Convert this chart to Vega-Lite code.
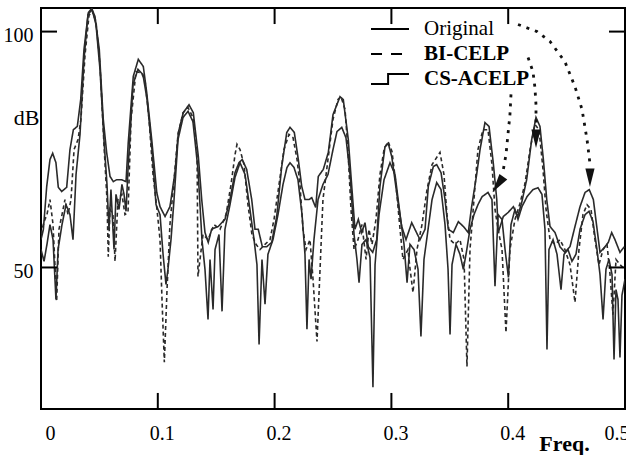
{
  "$schema": "https://vega.github.io/schema/vega-lite/v6.json",
  "width": 584,
  "height": 401,
  "autosize": {"type": "none"},
  "padding": {"left": 41, "top": 8, "right": 1, "bottom": 46},
  "background": "white",
  "config": {
    "view": {"stroke": "black", "strokeWidth": 2},
    "font": "Liberation Serif",
    "axis": {"grid": false, "domain": false, "ticks": false, "tickSize": 0, "labelColor": "black", "titleColor": "black", "labelFont": "Liberation Serif", "titleFont": "Liberation Serif", "labelFontSize": 20, "labelFontWeight": "normal"}
  },
  "datasets": {
    "spec": [
      {"s":"Original","f":0,"db":55.9},{"s":"Original","f":0.002,"db":58.0},{"s":"Original","f":0.0049,"db":67.2},{"s":"Original","f":0.0077,"db":72.9},{"s":"Original","f":0.0100,"db":74.2},{"s":"Original","f":0.0128,"db":72.2},{"s":"Original","f":0.0148,"db":67.0},{"s":"Original","f":0.0177,"db":66.1},{"s":"Original","f":0.0220,"db":67.0},{"s":"Original","f":0.0248,"db":75.0},{"s":"Original","f":0.0277,"db":79.2},{"s":"Original","f":0.0311,"db":79.9},{"s":"Original","f":0.0340,"db":85.6},{"s":"Original","f":0.0368,"db":96.2},{"s":"Original","f":0.0405,"db":104.0},{"s":"Original","f":0.0434,"db":104.9},{"s":"Original","f":0.0462,"db":103.2},{"s":"Original","f":0.0499,"db":96.2},{"s":"Original","f":0.0533,"db":81.4},{"s":"Original","f":0.0562,"db":74.4},{"s":"Original","f":0.0591,"db":69.3},{"s":"Original","f":0.0619,"db":68.2},{"s":"Original","f":0.0648,"db":68.6},{"s":"Original","f":0.0691,"db":68.6},{"s":"Original","f":0.0728,"db":68.2},{"s":"Original","f":0.0747,"db":76.5},{"s":"Original","f":0.0790,"db":90.5},{"s":"Original","f":0.0833,"db":94.1},{"s":"Original","f":0.0876,"db":92.6},{"s":"Original","f":0.0905,"db":87.1},{"s":"Original","f":0.0948,"db":77.1},{"s":"Original","f":0.0991,"db":65.9},{"s":"Original","f":0.1019,"db":62.9},{"s":"Original","f":0.1062,"db":60.8},{"s":"Original","f":0.1104,"db":62.9},{"s":"Original","f":0.1147,"db":70.1},{"s":"Original","f":0.1176,"db":78.6},{"s":"Original","f":0.1218,"db":82.8},{"s":"Original","f":0.1267,"db":84.5},{"s":"Original","f":0.1304,"db":82.8},{"s":"Original","f":0.1347,"db":73.5},{"s":"Original","f":0.1376,"db":64.4},{"s":"Original","f":0.1404,"db":57.4},{"s":"Original","f":0.1432,"db":55.3},{"s":"Original","f":0.1461,"db":58.1},{"s":"Original","f":0.1518,"db":58.7},{"s":"Original","f":0.1575,"db":60.2},{"s":"Original","f":0.1618,"db":64.4},{"s":"Original","f":0.1661,"db":70.1},{"s":"Original","f":0.1695,"db":72.2},{"s":"Original","f":0.1723,"db":72.9},{"s":"Original","f":0.1761,"db":70.8},{"s":"Original","f":0.1804,"db":64.4},{"s":"Original","f":0.1832,"db":58.1},{"s":"Original","f":0.1860,"db":58.1},{"s":"Original","f":0.1895,"db":54.4},{"s":"Original","f":0.1932,"db":54.4},{"s":"Original","f":0.1975,"db":55.3},{"s":"Original","f":0.2018,"db":60.8},{"s":"Original","f":0.2061,"db":71.4},{"s":"Original","f":0.2104,"db":78.6},{"s":"Original","f":0.2132,"db":79.7},{"s":"Original","f":0.2169,"db":78.6},{"s":"Original","f":0.2203,"db":72.9},{"s":"Original","f":0.2232,"db":67.2},{"s":"Original","f":0.2260,"db":64.4},{"s":"Original","f":0.2295,"db":64.4},{"s":"Original","f":0.2318,"db":64.8},{"s":"Original","f":0.2352,"db":62.7},{"s":"Original","f":0.2374,"db":69.3},{"s":"Original","f":0.2417,"db":70.8},{"s":"Original","f":0.2460,"db":74.4},{"s":"Original","f":0.2500,"db":82.4},{"s":"Original","f":0.2560,"db":86.2},{"s":"Original","f":0.2588,"db":85.6},{"s":"Original","f":0.2631,"db":77.1},{"s":"Original","f":0.2669,"db":64.4},{"s":"Original","f":0.2688,"db":58.1},{"s":"Original","f":0.2717,"db":60.2},{"s":"Original","f":0.2746,"db":57.4},{"s":"Original","f":0.2774,"db":59.5},{"s":"Original","f":0.2802,"db":54.4},{"s":"Original","f":0.2840,"db":53.2},{"s":"Original","f":0.2874,"db":55.9},{"s":"Original","f":0.2902,"db":67.2},{"s":"Original","f":0.2945,"db":75.6},{"s":"Original","f":0.2973,"db":76.3},{"s":"Original","f":0.3003,"db":73.5},{"s":"Original","f":0.3045,"db":65.9},{"s":"Original","f":0.3088,"db":58.7},{"s":"Original","f":0.3125,"db":55.9},{"s":"Original","f":0.3174,"db":59.5},{"s":"Original","f":0.3211,"db":57.6},{"s":"Original","f":0.3245,"db":55.9},{"s":"Original","f":0.3288,"db":58.1},{"s":"Original","f":0.3316,"db":67.2},{"s":"Original","f":0.3359,"db":71.4},{"s":"Original","f":0.3388,"db":71.8},{"s":"Original","f":0.3425,"db":70.1},{"s":"Original","f":0.3459,"db":64.4},{"s":"Original","f":0.3487,"db":58.1},{"s":"Original","f":0.3530,"db":57.4},{"s":"Original","f":0.3573,"db":59.7},{"s":"Original","f":0.3616,"db":58.7},{"s":"Original","f":0.3658,"db":57.4},{"s":"Original","f":0.3687,"db":62.9},{"s":"Original","f":0.3730,"db":69.7},{"s":"Original","f":0.3759,"db":75.0},{"s":"Original","f":0.3801,"db":80.7},{"s":"Original","f":0.3836,"db":79.9},{"s":"Original","f":0.3872,"db":72.2},{"s":"Original","f":0.3902,"db":64.4},{"s":"Original","f":0.3915,"db":57.4},{"s":"Original","f":0.3958,"db":60.8},{"s":"Original","f":0.4001,"db":61.7},{"s":"Original","f":0.4044,"db":62.9},{"s":"Original","f":0.4081,"db":60.8},{"s":"Original","f":0.4116,"db":63.8},{"s":"Original","f":0.4158,"db":68.6},{"s":"Original","f":0.4201,"db":77.1},{"s":"Original","f":0.4238,"db":81.8},{"s":"Original","f":0.4272,"db":79.9},{"s":"Original","f":0.4301,"db":72.9},{"s":"Original","f":0.4330,"db":64.4},{"s":"Original","f":0.4358,"db":58.7},{"s":"Original","f":0.4401,"db":57.4},{"s":"Original","f":0.4443,"db":54.4},{"s":"Original","f":0.4486,"db":53.2},{"s":"Original","f":0.4529,"db":54.4},{"s":"Original","f":0.4572,"db":58.7},{"s":"Original","f":0.4615,"db":62.9},{"s":"Original","f":0.4658,"db":65.9},{"s":"Original","f":0.4694,"db":66.5},{"s":"Original","f":0.4729,"db":64.4},{"s":"Original","f":0.4758,"db":58.7},{"s":"Original","f":0.4786,"db":53.2},{"s":"Original","f":0.4829,"db":54.4},{"s":"Original","f":0.4857,"db":55.3},{"s":"Original","f":0.4886,"db":57.4},{"s":"Original","f":0.4914,"db":55.9},{"s":"Original","f":0.4957,"db":53.2},{"s":"Original","f":0.4994,"db":54.4},

      {"s":"BI-CELP","f":0,"db":57.0},{"s":"BI-CELP","f":0.0026,"db":59.7},{"s":"BI-CELP","f":0.0051,"db":61.2},{"s":"BI-CELP","f":0.0077,"db":64.4},{"s":"BI-CELP","f":0.0103,"db":59.1},{"s":"BI-CELP","f":0.0134,"db":42.8},{"s":"BI-CELP","f":0.0154,"db":58.1},{"s":"BI-CELP","f":0.0180,"db":61.2},{"s":"BI-CELP","f":0.0205,"db":64.4},{"s":"BI-CELP","f":0.0231,"db":61.2},{"s":"BI-CELP","f":0.0257,"db":64.4},{"s":"BI-CELP","f":0.0283,"db":75.0},{"s":"BI-CELP","f":0.0317,"db":77.1},{"s":"BI-CELP","f":0.0342,"db":81.4},{"s":"BI-CELP","f":0.0377,"db":95.1},{"s":"BI-CELP","f":0.0411,"db":103.4},{"s":"BI-CELP","f":0.0437,"db":104.4},{"s":"BI-CELP","f":0.0471,"db":102.1},{"s":"BI-CELP","f":0.0505,"db":93.0},{"s":"BI-CELP","f":0.0539,"db":76.1},{"s":"BI-CELP","f":0.0565,"db":64.4},{"s":"BI-CELP","f":0.0576,"db":52.3},{"s":"BI-CELP","f":0.0591,"db":62.3},{"s":"BI-CELP","f":0.0616,"db":61.2},{"s":"BI-CELP","f":0.0634,"db":51.3},{"s":"BI-CELP","f":0.0659,"db":64.4},{"s":"BI-CELP","f":0.0693,"db":65.5},{"s":"BI-CELP","f":0.0719,"db":61.2},{"s":"BI-CELP","f":0.0745,"db":61.7},{"s":"BI-CELP","f":0.0771,"db":81.4},{"s":"BI-CELP","f":0.0813,"db":91.5},{"s":"BI-CELP","f":0.0856,"db":91.3},{"s":"BI-CELP","f":0.0890,"db":89.8},{"s":"BI-CELP","f":0.0925,"db":81.4},{"s":"BI-CELP","f":0.0959,"db":69.7},{"s":"BI-CELP","f":0.0993,"db":62.3},{"s":"BI-CELP","f":0.1019,"db":55.9},{"s":"BI-CELP","f":0.1036,"db":43.2},{"s":"BI-CELP","f":0.1056,"db":29.9},{"s":"BI-CELP","f":0.1079,"db":45.3},{"s":"BI-CELP","f":0.1104,"db":59.1},{"s":"BI-CELP","f":0.1139,"db":68.6},{"s":"BI-CELP","f":0.1173,"db":78.2},{"s":"BI-CELP","f":0.1216,"db":82.8},{"s":"BI-CELP","f":0.1259,"db":83.9},{"s":"BI-CELP","f":0.1301,"db":81.8},{"s":"BI-CELP","f":0.1336,"db":75.0},{"s":"BI-CELP","f":0.1344,"db":48.1},{"s":"BI-CELP","f":0.1387,"db":57.0},{"s":"BI-CELP","f":0.1430,"db":55.9},{"s":"BI-CELP","f":0.1481,"db":59.1},{"s":"BI-CELP","f":0.1533,"db":58.1},{"s":"BI-CELP","f":0.1584,"db":61.2},{"s":"BI-CELP","f":0.1627,"db":67.6},{"s":"BI-CELP","f":0.1661,"db":73.9},{"s":"BI-CELP","f":0.1678,"db":76.1},{"s":"BI-CELP","f":0.1704,"db":75.0},{"s":"BI-CELP","f":0.1738,"db":71.8},{"s":"BI-CELP","f":0.1772,"db":63.3},{"s":"BI-CELP","f":0.1806,"db":57.0},{"s":"BI-CELP","f":0.1841,"db":54.9},{"s":"BI-CELP","f":0.1875,"db":53.8},{"s":"BI-CELP","f":0.1918,"db":54.9},{"s":"BI-CELP","f":0.1961,"db":55.9},{"s":"BI-CELP","f":0.1995,"db":60.2},{"s":"BI-CELP","f":0.2038,"db":67.6},{"s":"BI-CELP","f":0.2080,"db":75.0},{"s":"BI-CELP","f":0.2123,"db":78.2},{"s":"BI-CELP","f":0.2158,"db":77.5},{"s":"BI-CELP","f":0.2192,"db":72.9},{"s":"BI-CELP","f":0.2217,"db":67.6},{"s":"BI-CELP","f":0.2243,"db":58.1},{"s":"BI-CELP","f":0.2269,"db":53.8},{"s":"BI-CELP","f":0.2303,"db":55.9},{"s":"BI-CELP","f":0.2329,"db":47.5},{"s":"BI-CELP","f":0.2363,"db":34.3},{"s":"BI-CELP","f":0.2389,"db":49.6},{"s":"BI-CELP","f":0.2414,"db":64.4},{"s":"BI-CELP","f":0.2457,"db":72.9},{"s":"BI-CELP","f":0.2500,"db":81.4},{"s":"BI-CELP","f":0.2543,"db":85.6},{"s":"BI-CELP","f":0.2568,"db":86.2},{"s":"BI-CELP","f":0.2603,"db":83.5},{"s":"BI-CELP","f":0.2628,"db":75.0},{"s":"BI-CELP","f":0.2654,"db":62.3},{"s":"BI-CELP","f":0.2680,"db":53.8},{"s":"BI-CELP","f":0.2714,"db":55.9},{"s":"BI-CELP","f":0.2748,"db":59.1},{"s":"BI-CELP","f":0.2783,"db":51.7},{"s":"BI-CELP","f":0.2808,"db":58.1},{"s":"BI-CELP","f":0.2834,"db":54.9},{"s":"BI-CELP","f":0.2868,"db":60.2},{"s":"BI-CELP","f":0.2902,"db":69.7},{"s":"BI-CELP","f":0.2937,"db":75.0},{"s":"BI-CELP","f":0.2971,"db":76.7},{"s":"BI-CELP","f":0.3005,"db":74.6},{"s":"BI-CELP","f":0.3039,"db":67.6},{"s":"BI-CELP","f":0.3074,"db":58.1},{"s":"BI-CELP","f":0.3099,"db":51.7},{"s":"BI-CELP","f":0.3142,"db":53.8},{"s":"BI-CELP","f":0.3160,"db":49.6},{"s":"BI-CELP","f":0.3185,"db":44.7},{"s":"BI-CELP","f":0.3219,"db":53.8},{"s":"BI-CELP","f":0.3262,"db":59.1},{"s":"BI-CELP","f":0.3305,"db":66.5},{"s":"BI-CELP","f":0.3348,"db":71.8},{"s":"BI-CELP","f":0.3416,"db":74.4},{"s":"BI-CELP","f":0.3450,"db":69.7},{"s":"BI-CELP","f":0.3476,"db":61.2},{"s":"BI-CELP","f":0.3502,"db":55.9},{"s":"BI-CELP","f":0.3545,"db":54.9},{"s":"BI-CELP","f":0.3587,"db":55.9},{"s":"BI-CELP","f":0.3622,"db":51.7},{"s":"BI-CELP","f":0.3647,"db":29.0},{"s":"BI-CELP","f":0.3673,"db":53.8},{"s":"BI-CELP","f":0.3707,"db":64.4},{"s":"BI-CELP","f":0.3741,"db":75.0},{"s":"BI-CELP","f":0.3784,"db":79.2},{"s":"BI-CELP","f":0.3827,"db":79.2},{"s":"BI-CELP","f":0.3861,"db":71.8},{"s":"BI-CELP","f":0.3887,"db":62.3},{"s":"BI-CELP","f":0.3913,"db":58.1},{"s":"BI-CELP","f":0.3947,"db":53.8},{"s":"BI-CELP","f":0.3981,"db":36.2},{"s":"BI-CELP","f":0.4015,"db":53.8},{"s":"BI-CELP","f":0.4058,"db":60.2},{"s":"BI-CELP","f":0.4101,"db":63.6},{"s":"BI-CELP","f":0.4144,"db":67.8},{"s":"BI-CELP","f":0.4187,"db":75.0},{"s":"BI-CELP","f":0.4229,"db":80.3},{"s":"BI-CELP","f":0.4264,"db":79.2},{"s":"BI-CELP","f":0.4298,"db":70.8},{"s":"BI-CELP","f":0.4324,"db":62.3},{"s":"BI-CELP","f":0.4358,"db":55.9},{"s":"BI-CELP","f":0.4401,"db":54.9},{"s":"BI-CELP","f":0.4443,"db":55.9},{"s":"BI-CELP","f":0.4486,"db":53.8},{"s":"BI-CELP","f":0.4529,"db":50.6},{"s":"BI-CELP","f":0.4572,"db":42.6},{"s":"BI-CELP","f":0.4606,"db":53.8},{"s":"BI-CELP","f":0.4640,"db":61.2},{"s":"BI-CELP","f":0.4675,"db":63.3},{"s":"BI-CELP","f":0.4709,"db":62.3},{"s":"BI-CELP","f":0.4743,"db":55.9},{"s":"BI-CELP","f":0.4777,"db":50.6},{"s":"BI-CELP","f":0.4812,"db":53.8},{"s":"BI-CELP","f":0.4846,"db":54.9},{"s":"BI-CELP","f":0.4872,"db":48.5},{"s":"BI-CELP","f":0.4897,"db":40.0},{"s":"BI-CELP","f":0.4923,"db":51.7},{"s":"BI-CELP","f":0.4957,"db":50.6},{"s":"BI-CELP","f":0.5,"db":49.6},

      {"s":"CS-ACELP","f":0,"db":53.8},{"s":"CS-ACELP","f":0.0026,"db":51.3},{"s":"CS-ACELP","f":0.0051,"db":54.9},{"s":"CS-ACELP","f":0.0077,"db":59.1},{"s":"CS-ACELP","f":0.0103,"db":55.9},{"s":"CS-ACELP","f":0.0128,"db":43.2},{"s":"CS-ACELP","f":0.0146,"db":53.8},{"s":"CS-ACELP","f":0.0180,"db":59.1},{"s":"CS-ACELP","f":0.0214,"db":63.3},{"s":"CS-ACELP","f":0.0248,"db":61.2},{"s":"CS-ACELP","f":0.0274,"db":55.9},{"s":"CS-ACELP","f":0.0300,"db":69.7},{"s":"CS-ACELP","f":0.0334,"db":78.2},{"s":"CS-ACELP","f":0.0368,"db":94.1},{"s":"CS-ACELP","f":0.0402,"db":103.6},{"s":"CS-ACELP","f":0.0437,"db":104.7},{"s":"CS-ACELP","f":0.0471,"db":101.5},{"s":"CS-ACELP","f":0.0505,"db":92.0},{"s":"CS-ACELP","f":0.0539,"db":77.1},{"s":"CS-ACELP","f":0.0565,"db":67.6},{"s":"CS-ACELP","f":0.0582,"db":58.1},{"s":"CS-ACELP","f":0.0599,"db":66.5},{"s":"CS-ACELP","f":0.0625,"db":53.8},{"s":"CS-ACELP","f":0.0642,"db":65.5},{"s":"CS-ACELP","f":0.0668,"db":62.3},{"s":"CS-ACELP","f":0.0693,"db":67.6},{"s":"CS-ACELP","f":0.0711,"db":65.5},{"s":"CS-ACELP","f":0.0728,"db":61.9},{"s":"CS-ACELP","f":0.0745,"db":70.8},{"s":"CS-ACELP","f":0.0788,"db":88.8},{"s":"CS-ACELP","f":0.0830,"db":92.0},{"s":"CS-ACELP","f":0.0873,"db":90.9},{"s":"CS-ACELP","f":0.0908,"db":85.6},{"s":"CS-ACELP","f":0.0950,"db":75.0},{"s":"CS-ACELP","f":0.0985,"db":63.3},{"s":"CS-ACELP","f":0.1019,"db":61.2},{"s":"CS-ACELP","f":0.1045,"db":52.8},{"s":"CS-ACELP","f":0.1070,"db":46.4},{"s":"CS-ACELP","f":0.1087,"db":49.6},{"s":"CS-ACELP","f":0.1113,"db":55.9},{"s":"CS-ACELP","f":0.1139,"db":64.4},{"s":"CS-ACELP","f":0.1173,"db":77.1},{"s":"CS-ACELP","f":0.1216,"db":81.8},{"s":"CS-ACELP","f":0.1259,"db":83.1},{"s":"CS-ACELP","f":0.1301,"db":80.9},{"s":"CS-ACELP","f":0.1344,"db":70.8},{"s":"CS-ACELP","f":0.1378,"db":55.9},{"s":"CS-ACELP","f":0.1404,"db":49.6},{"s":"CS-ACELP","f":0.1430,"db":39.0},{"s":"CS-ACELP","f":0.1447,"db":51.7},{"s":"CS-ACELP","f":0.1473,"db":41.1},{"s":"CS-ACELP","f":0.1490,"db":53.8},{"s":"CS-ACELP","f":0.1524,"db":57.0},{"s":"CS-ACELP","f":0.1550,"db":40.7},{"s":"CS-ACELP","f":0.1575,"db":58.1},{"s":"CS-ACELP","f":0.1618,"db":63.3},{"s":"CS-ACELP","f":0.1661,"db":69.1},{"s":"CS-ACELP","f":0.1704,"db":72.2},{"s":"CS-ACELP","f":0.1747,"db":69.7},{"s":"CS-ACELP","f":0.1789,"db":62.3},{"s":"CS-ACELP","f":0.1824,"db":55.9},{"s":"CS-ACELP","f":0.1849,"db":50.6},{"s":"CS-ACELP","f":0.1867,"db":33.7},{"s":"CS-ACELP","f":0.1892,"db":51.7},{"s":"CS-ACELP","f":0.1918,"db":42.2},{"s":"CS-ACELP","f":0.1943,"db":52.8},{"s":"CS-ACELP","f":0.1986,"db":55.9},{"s":"CS-ACELP","f":0.2029,"db":61.2},{"s":"CS-ACELP","f":0.2072,"db":67.6},{"s":"CS-ACELP","f":0.2106,"db":71.2},{"s":"CS-ACELP","f":0.2132,"db":72.2},{"s":"CS-ACELP","f":0.2166,"db":71.2},{"s":"CS-ACELP","f":0.2200,"db":68.6},{"s":"CS-ACELP","f":0.2235,"db":61.2},{"s":"CS-ACELP","f":0.2260,"db":52.8},{"s":"CS-ACELP","f":0.2277,"db":36.9},{"s":"CS-ACELP","f":0.2295,"db":51.7},{"s":"CS-ACELP","f":0.2312,"db":47.5},{"s":"CS-ACELP","f":0.2337,"db":55.9},{"s":"CS-ACELP","f":0.2372,"db":64.4},{"s":"CS-ACELP","f":0.2414,"db":67.6},{"s":"CS-ACELP","f":0.2457,"db":69.7},{"s":"CS-ACELP","f":0.2500,"db":75.0},{"s":"CS-ACELP","f":0.2534,"db":78.8},{"s":"CS-ACELP","f":0.2575,"db":79.7},{"s":"CS-ACELP","f":0.2611,"db":77.5},{"s":"CS-ACELP","f":0.2646,"db":69.7},{"s":"CS-ACELP","f":0.2680,"db":57.0},{"s":"CS-ACELP","f":0.2705,"db":51.7},{"s":"CS-ACELP","f":0.2723,"db":46.8},{"s":"CS-ACELP","f":0.2748,"db":54.9},{"s":"CS-ACELP","f":0.2783,"db":55.9},{"s":"CS-ACELP","f":0.2817,"db":52.1},{"s":"CS-ACELP","f":0.2842,"db":24.6},{"s":"CS-ACELP","f":0.2860,"db":50.6},{"s":"CS-ACELP","f":0.2894,"db":61.2},{"s":"CS-ACELP","f":0.2937,"db":68.6},{"s":"CS-ACELP","f":0.2988,"db":72.2},{"s":"CS-ACELP","f":0.3031,"db":69.7},{"s":"CS-ACELP","f":0.3074,"db":61.2},{"s":"CS-ACELP","f":0.3108,"db":54.9},{"s":"CS-ACELP","f":0.3134,"db":46.8},{"s":"CS-ACELP","f":0.3159,"db":54.9},{"s":"CS-ACELP","f":0.3194,"db":53.8},{"s":"CS-ACELP","f":0.3228,"db":49.6},{"s":"CS-ACELP","f":0.3253,"db":35.4},{"s":"CS-ACELP","f":0.3279,"db":51.7},{"s":"CS-ACELP","f":0.3314,"db":58.1},{"s":"CS-ACELP","f":0.3348,"db":64.4},{"s":"CS-ACELP","f":0.3388,"db":68.0},{"s":"CS-ACELP","f":0.3425,"db":66.5},{"s":"CS-ACELP","f":0.3459,"db":59.1},{"s":"CS-ACELP","f":0.3485,"db":49.6},{"s":"CS-ACELP","f":0.3502,"db":35.8},{"s":"CS-ACELP","f":0.3519,"db":50.6},{"s":"CS-ACELP","f":0.3553,"db":54.9},{"s":"CS-ACELP","f":0.3587,"db":52.8},{"s":"CS-ACELP","f":0.3616,"db":49.6},{"s":"CS-ACELP","f":0.3639,"db":52.8},{"s":"CS-ACELP","f":0.3673,"db":58.1},{"s":"CS-ACELP","f":0.3707,"db":61.2},{"s":"CS-ACELP","f":0.3741,"db":63.3},{"s":"CS-ACELP","f":0.3776,"db":65.0},{"s":"CS-ACELP","f":0.3827,"db":65.9},{"s":"CS-ACELP","f":0.3861,"db":64.4},{"s":"CS-ACELP","f":0.3887,"db":46.0},{"s":"CS-ACELP","f":0.3913,"db":61.2},{"s":"CS-ACELP","f":0.3947,"db":60.2},{"s":"CS-ACELP","f":0.3973,"db":53.8},{"s":"CS-ACELP","f":0.4002,"db":47.9},{"s":"CS-ACELP","f":0.4024,"db":59.1},{"s":"CS-ACELP","f":0.4058,"db":62.3},{"s":"CS-ACELP","f":0.4084,"db":60.2},{"s":"CS-ACELP","f":0.4118,"db":62.9},{"s":"CS-ACELP","f":0.4161,"db":65.0},{"s":"CS-ACELP","f":0.4212,"db":66.5},{"s":"CS-ACELP","f":0.4255,"db":66.9},{"s":"CS-ACELP","f":0.4289,"db":65.5},{"s":"CS-ACELP","f":0.4315,"db":58.1},{"s":"CS-ACELP","f":0.4332,"db":32.6},{"s":"CS-ACELP","f":0.4349,"db":53.8},{"s":"CS-ACELP","f":0.4384,"db":55.9},{"s":"CS-ACELP","f":0.4418,"db":52.8},{"s":"CS-ACELP","f":0.4452,"db":45.3},{"s":"CS-ACELP","f":0.4478,"db":52.8},{"s":"CS-ACELP","f":0.4512,"db":53.8},{"s":"CS-ACELP","f":0.4546,"db":51.3},{"s":"CS-ACELP","f":0.4580,"db":52.8},{"s":"CS-ACELP","f":0.4615,"db":58.1},{"s":"CS-ACELP","f":0.4658,"db":61.2},{"s":"CS-ACELP","f":0.4692,"db":61.9},{"s":"CS-ACELP","f":0.4726,"db":59.7},{"s":"CS-ACELP","f":0.4760,"db":53.8},{"s":"CS-ACELP","f":0.4786,"db":48.5},{"s":"CS-ACELP","f":0.4812,"db":39.0},{"s":"CS-ACELP","f":0.4837,"db":49.6},{"s":"CS-ACELP","f":0.4863,"db":51.7},{"s":"CS-ACELP","f":0.4889,"db":48.5},{"s":"CS-ACELP","f":0.4906,"db":30.5},{"s":"CS-ACELP","f":0.4923,"db":45.3},{"s":"CS-ACELP","f":0.4940,"db":43.2},{"s":"CS-ACELP","f":0.4957,"db":30.9},{"s":"CS-ACELP","f":0.4974,"db":44.1},{"s":"CS-ACELP","f":0.5,"db":47.5}
    ],
    "arrows": [
      {"a":"A","i":1,"f":0.4084,"db":101.5},{"a":"A","i":2,"f":0.4247,"db":100.0},{"a":"A","i":3,"f":0.4358,"db":97.9},{"a":"A","i":4,"f":0.4486,"db":93.6},{"a":"A","i":5,"f":0.4572,"db":88.3},{"a":"A","i":6,"f":0.4632,"db":83.5},{"a":"A","i":7,"f":0.4675,"db":77.1},{"a":"A","i":8,"f":0.4700,"db":72.0},
      {"a":"B","i":1,"f":0.4170,"db":94.5},{"a":"B","i":2,"f":0.4212,"db":91.5},{"a":"B","i":3,"f":0.4229,"db":88.1},{"a":"B","i":4,"f":0.4238,"db":84.5},{"a":"B","i":5,"f":0.4238,"db":80.5},
      {"a":"C","i":1,"f":0.4024,"db":86.7},{"a":"C","i":2,"f":0.4015,"db":82.4},{"a":"C","i":3,"f":0.3998,"db":78.2},{"a":"C","i":4,"f":0.3981,"db":73.9},{"a":"C","i":5,"f":0.3955,"db":70.3}
    ],
    "heads": [
      {"a":"A","f":0.4700,"db":69.0},
      {"a":"B","f":0.4238,"db":77.3},
      {"a":"C","f":0.3912,"db":67.6}
    ],
    "ticks": [
      {"t":"b1","i":1,"f":0.1,"db":20},{"t":"b1","i":2,"f":0.1,"db":23.4},
      {"t":"b2","i":1,"f":0.2,"db":20},{"t":"b2","i":2,"f":0.2,"db":23.4},
      {"t":"b3","i":1,"f":0.3,"db":20},{"t":"b3","i":2,"f":0.3,"db":23.4},
      {"t":"b4","i":1,"f":0.4,"db":20},{"t":"b4","i":2,"f":0.4,"db":23.4},
      {"t":"t1","i":1,"f":0.1,"db":105},{"t":"t1","i":2,"f":0.1,"db":101.6},
      {"t":"t2","i":1,"f":0.2,"db":105},{"t":"t2","i":2,"f":0.2,"db":101.6},
      {"t":"t3","i":1,"f":0.3,"db":105},{"t":"t3","i":2,"f":0.3,"db":101.6},
      {"t":"t4","i":1,"f":0.4,"db":105},{"t":"t4","i":2,"f":0.4,"db":101.6},
      {"t":"l1","i":1,"f":0,"db":50},{"t":"l1","i":2,"f":0.0137,"db":50},
      {"t":"l2","i":1,"f":0,"db":100},{"t":"l2","i":2,"f":0.0137,"db":100},
      {"t":"r1","i":1,"f":0.4863,"db":50},{"t":"r1","i":2,"f":0.5,"db":50},
      {"t":"r2","i":1,"f":0.4863,"db":100},{"t":"r2","i":2,"f":0.5,"db":100}
    ]
  },
  "layer": [
    {
      "data": {"name": "spec"},
      "transform": [{"filter": "datum.s !== 'BI-CELP'"}],
      "mark": {"type": "line", "color": "#2a2a2a", "strokeWidth": 1.6, "clip": true},
      "encoding": {
        "x": {"field": "f", "type": "quantitative", "scale": {"domain": [0, 0.5], "nice": false, "zero": false},
          "axis": {"orient": "bottom", "values": [0, 0.1, 0.2, 0.3, 0.4, 0.5], "format": "~g", "labelPadding": 14, "labelFlush": true, "labelOffset": 4,
            "title": "Freq.", "titleX": 523, "titleY": 34, "titleAlign": "center", "titleBaseline": "middle", "titleFontSize": 22, "titleFontWeight": "bold"}},
        "y": {"field": "db", "type": "quantitative", "scale": {"domain": [20, 105], "nice": false, "zero": false},
          "axis": {"orient": "left", "values": [50, 100], "labelPadding": 8, "labelOffset": 4,
            "title": "dB", "titleAngle": 0, "titleX": -15, "titleY": 109, "titleAlign": "center", "titleBaseline": "middle", "titleFontSize": 22, "titleFontWeight": "normal"}},
        "strokeDash": {"field": "s", "type": "nominal",
          "scale": {"domain": ["Original", "BI-CELP", "CS-ACELP"], "range": [[1, 0], [11, 9], [1, 0]]},
          "legend": {"orient": "none", "legendX": 335, "legendY": 7, "title": null, "padding": 0,
            "symbolType": "stroke", "symbolSize": 641, "symbolStrokeWidth": 2, "symbolStrokeColor": "black",
            "labelFont": "Liberation Serif", "labelFontSize": 21, "labelColor": "black", "labelOffset": 20, "labelLimit": 300, "rowPadding": 1,
            "encode": {
              "symbols": {"update": {
                "shape": {"signal": "datum.value === 'CS-ACELP' ? 'M-1.5,0.4L-0.15,0.4L-0.15,-0.4L1.5,-0.4' : 'M-1.5,0L1.5,0'"},
                "fill": {"value": "transparent"}
              }},
              "labels": {"update": {"fontWeight": {"signal": "datum.value === 'Original' ? 'normal' : 'bold'"}}}
            }}
        }
      }
    },
    {
      "data": {"name": "spec"},
      "transform": [{"filter": "datum.s === 'BI-CELP'"}],
      "mark": {"type": "line", "color": "#2a2a2a", "strokeWidth": 1.6, "strokeDash": [4, 3], "clip": true},
      "encoding": {
        "x": {"field": "f", "type": "quantitative"},
        "y": {"field": "db", "type": "quantitative"}
      }
    },
    {
      "data": {"name": "arrows"},
      "mark": {"type": "line", "color": "#111", "strokeWidth": 2.8, "strokeDash": [3, 6], "strokeCap": "butt"},
      "encoding": {
        "x": {"field": "f", "type": "quantitative"},
        "y": {"field": "db", "type": "quantitative"},
        "detail": {"field": "a"},
        "order": {"field": "i", "type": "quantitative"}
      }
    },
    {
      "data": {"name": "ticks"},
      "mark": {"type": "line", "color": "black", "strokeWidth": 2, "strokeCap": "butt"},
      "encoding": {
        "x": {"field": "f", "type": "quantitative"},
        "y": {"field": "db", "type": "quantitative"},
        "detail": {"field": "t"},
        "order": {"field": "i", "type": "quantitative"}
      }
    },
    {
      "data": {"name": "heads"},
      "transform": [{"filter": "datum.a !== 'C'"}],
      "mark": {"type": "point", "shape": "M-0.5,-1L0.5,-1L0,1Z", "filled": true, "color": "#111", "size": 340, "opacity": 1},
      "encoding": {
        "x": {"field": "f", "type": "quantitative"},
        "y": {"field": "db", "type": "quantitative"}
      }
    },
    {
      "data": {"name": "heads"},
      "transform": [{"filter": "datum.a === 'C'"}],
      "mark": {"type": "point", "shape": "M-0.5,-1L0.5,-1L0,1Z", "filled": true, "color": "#111", "size": 360, "angle": 35, "opacity": 1},
      "encoding": {
        "x": {"field": "f", "type": "quantitative"},
        "y": {"field": "db", "type": "quantitative"}
      }
    }
  ]
}
